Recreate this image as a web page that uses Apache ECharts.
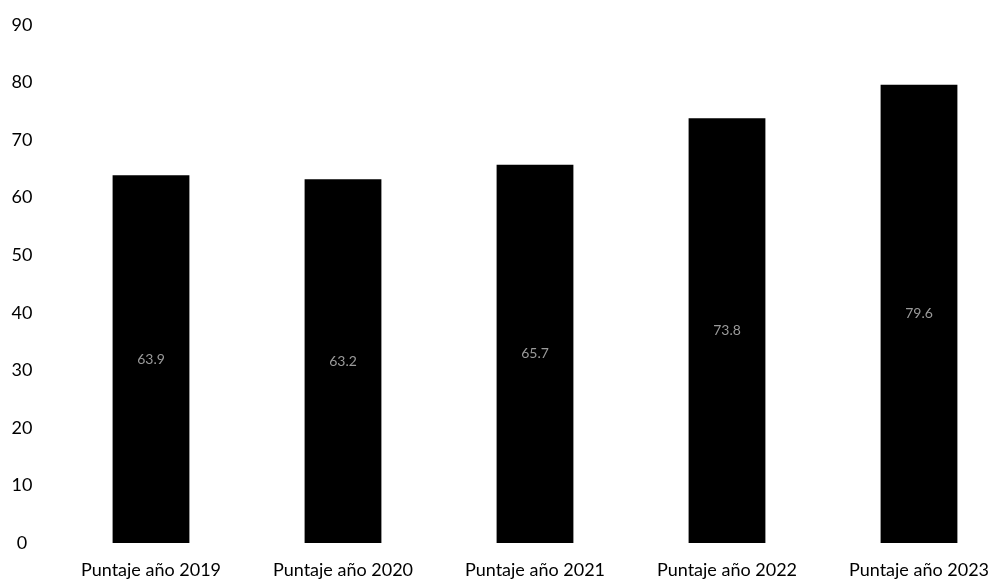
<!DOCTYPE html>
<html>
<head>
<meta charset="utf-8">
<script src="https://cdn.jsdelivr.net/npm/echarts@6/dist/echarts.min.js"></script>
<style>
html,body{margin:0;padding:0;background:#fff;}
#chart{width:1006px;height:584px;}
</style>
</head>
<body>
<div id="chart"></div>
<script>
var categories = ['Puntaje año 2019','Puntaje año 2020','Puntaje año 2021','Puntaje año 2022','Puntaje año 2023'];
var scores = [63.9, 63.2, 65.7, 73.8, 79.6];
var yTicks = [0, 90, 10]; // min, max, interval

var myChart = echarts.init(document.getElementById('chart'));
var option = {
	animation: false,
	backgroundColor: '#fff',
	grid: {
		left: 55,
		width: 960,
		top: 25,
		bottom: 41,
		outerBoundsMode: 'none'
	},
	xAxis: {
		type: 'category',
		data: categories,
		axisLine: {show: false},
		axisTick: {show: false},
		axisLabel: {
			color: '#000',
			fontFamily: 'Lato',
			fontSize: 18,
			margin: 18
		}
	},
	yAxis: {
		type: 'value',
		min: yTicks[0],
		max: yTicks[1],
		interval: yTicks[2],
		splitLine: {show: false},
		axisLine: {show: false},
		axisTick: {show: false},
		axisLabel: {
			color: '#000',
			fontFamily: 'Lato',
			fontSize: 18,
			align: 'center',
			margin: 33
		}
	},
	series: [{
		type: 'bar',
		data: scores,
		barWidth: '40%',
		itemStyle: {color: '#000'},
		label: {
			show: true,
			position: 'inside',
			color: '#9a9a9a',
			fontFamily: 'Lato',
			fontSize: 14,
			formatter: function(p){ return p.value.toFixed(1); }
		}
	}]
};
myChart.setOption(option);
</script>
</body>
</html>
